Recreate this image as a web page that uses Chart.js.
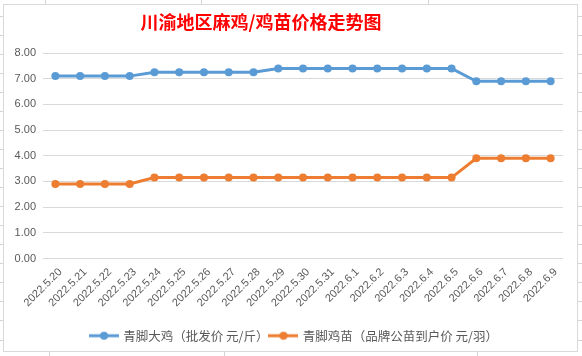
<!DOCTYPE html>
<html>
<head>
<meta charset="utf-8">
<script src="https://cdn.jsdelivr.net/npm/chart.js@4/dist/chart.umd.min.js"></script>
<style>
html,body{margin:0;padding:0;background:#fff;}
#wrap{position:relative;width:582px;height:356px;}
canvas{display:block;}
</style>
</head>
<body>
<div id="wrap"><canvas id="c" width="582" height="356"></canvas></div>
<script>
const title = '川渝地区麻鸡/鸡苗价格走势图';
const categories = ['2022.5.20','2022.5.21','2022.5.22','2022.5.23','2022.5.24','2022.5.25','2022.5.26','2022.5.27','2022.5.28','2022.5.29','2022.5.30','2022.5.31','2022.6.1','2022.6.2','2022.6.3','2022.6.4','2022.6.5','2022.6.6','2022.6.7','2022.6.8','2022.6.9'];
const seriesNames = ['青脚大鸡（批发价 元/斤）','青脚鸡苗（品牌公苗到户价 元/羽）'];
const broilerPrice = [7.1,7.1,7.1,7.1,7.25,7.25,7.25,7.25,7.25,7.4,7.4,7.4,7.4,7.4,7.4,7.4,7.4,6.9,6.9,6.9,6.9];
const chickPrice = [2.9,2.9,2.9,2.9,3.15,3.15,3.15,3.15,3.15,3.15,3.15,3.15,3.15,3.15,3.15,3.15,3.15,3.9,3.9,3.9,3.9];
const yTicks = [0,1,2,3,4,5,6,7,8];

const colors = ['#5B9BD5','#ED7D31'];

function legendMarker(color){
  const c = document.createElement('canvas');
  c.width = 30; c.height = 10;
  const g = c.getContext('2d');
  g.strokeStyle = color; g.lineWidth = 3;
  g.beginPath(); g.moveTo(0,5); g.lineTo(30,5); g.stroke();
  g.fillStyle = color;
  g.beginPath(); g.arc(15,5,4,0,Math.PI*2); g.fill();
  return c;
}
const markers = colors.map(legendMarker);

const frame = {
  id:'frame',
  beforeDraw(chart){
    const g = chart.ctx;
    g.save();
    g.strokeStyle = '#D4D4D4'; g.lineWidth = 1;
    g.beginPath();
    for (let y = 16; y < 356; y += 19.03){
      const yy = Math.round(y)+0.5;
      g.moveTo(0,yy); g.lineTo(3,yy);
      g.moveTo(578,yy); g.lineTo(582,yy);
    }
    [45,201,428].forEach(x=>{g.moveTo(x+0.5,0); g.lineTo(x+0.5,4);});
    [49,224,477].forEach(x=>{g.moveTo(x+0.5,352); g.lineTo(x+0.5,356);});
    g.stroke();
    g.strokeStyle = '#D9D9D9';
    g.strokeRect(3.5,4.5,574,347);
    g.restore();
  },
  afterDraw(chart){
    const g = chart.ctx;
    g.save();
    g.fillStyle = '#FF0000';
    g.font = 'bold 18px "Noto Sans CJK SC", sans-serif';
    g.textAlign = 'center';
    g.textBaseline = 'middle';
    g.fillText(title, 261, 22);
    g.restore();
  }
};

new Chart(document.getElementById('c'), {
  type:'line',
  data:{
    labels: categories,
    datasets:[
      {label: seriesNames[0], data: broilerPrice, borderColor: colors[0], backgroundColor: colors[0], borderWidth:3, pointRadius:4, pointBackgroundColor: colors[0], pointBorderWidth:0, tension:0},
      {label: seriesNames[1], data: chickPrice, borderColor: colors[1], backgroundColor: colors[1], borderWidth:3, pointRadius:4, pointBackgroundColor: colors[1], pointBorderWidth:0, tension:0}
    ]
  },
  options:{
    responsive:false,
    animation:false,
    layout:{padding:{left:13,right:6,top:53,bottom:4}},
    scales:{
      x:{
        offset:true,
        grid:{display:false, drawTicks:false},
        border:{display:false},
        ticks:{color:'#595959', font:{family:'"Liberation Sans", Arial, sans-serif', size:11}, minRotation:45, maxRotation:45, padding:7, labelOffset:5, autoSkip:false},
        afterFit(s){ s.height = 69; }
      },
      y:{
        min:0, max:8,
        afterBuildTicks(s){ s.ticks = yTicks.map(v=>({value:v})); },
        grid:{color:'#D9D9D9', drawTicks:false, lineWidth:1},
        border:{display:false},
        ticks:{color:'#595959', font:{family:'"Liberation Sans", Arial, sans-serif', size:11}, padding:7, callback:v=>Number(v).toFixed(2)},
        afterFit(s){ s.width = 30; }
      },
      spacer:{
        position:'right', display:true,
        grid:{display:false, drawTicks:false},
        border:{display:false},
        ticks:{display:false},
        afterFit(s){ s.width = 13; }
      }
    },
    plugins:{
      tooltip:{enabled:false},
      title:{display:false},
      legend:{
        position:'bottom',
        labels:{
          color:'#595959',
          font:{family:'"Noto Sans CJK SC", sans-serif', size:12.5},
          usePointStyle:true,
          pointStyleWidth:26,
          padding:2,
          generateLabels(chart){
            const items = Chart.defaults.plugins.legend.labels.generateLabels(chart);
            items.forEach((it,i)=>{ it.pointStyle = markers[i]; });
            return items;
          }
        }
      }
    }
  },
  plugins:[frame]
});
</script>
</body>
</html>
